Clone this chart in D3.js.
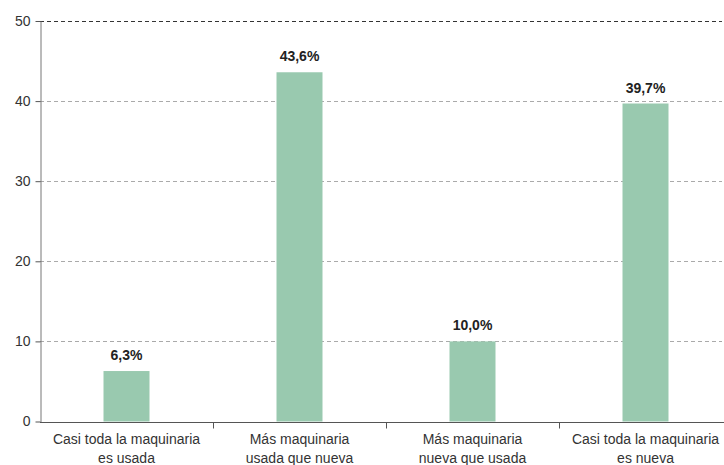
<!DOCTYPE html>
<html><head><meta charset="utf-8">
<script src="https://cdn.jsdelivr.net/npm/d3@7"></script>
<style>body{margin:0;background:#fff}svg{display:block;font-family:"Liberation Sans",Arial,sans-serif}</style>
</head><body>
<svg id="c" width="724" height="465"></svg>
<script>
const categories = [["Casi toda la maquinaria","es usada"],["Más maquinaria","usada que nueva"],["Más maquinaria","nueva que usada"],["Casi toda la maquinaria","es nueva"]];
const values = [6.3, 43.6, 10.0, 39.7];
const valueLabels = ["6,3%","43,6%","10,0%","39,7%"];
const yTicks = [0,10,20,30,40,50];

const svg = d3.select("#c");
const x0 = 40, x1 = 732, yTop = 21, yBot = 421.5;
const x = d3.scaleBand().domain(d3.range(categories.length)).range([x0, x1]).paddingInner(0).paddingOuter(0);
const y = d3.scaleLinear().domain([0,50]).range([yBot, yTop]);
const barW = 46;

// gridlines
svg.append("g").selectAll("line").data(yTicks.filter(d=>d>0)).join("line")
  .attr("x1", x0).attr("x2", 722)
  .attr("y1", d=>Math.round(y(d))+0.5).attr("y2", d=>Math.round(y(d))+0.5)
  .attr("stroke", d=>d===50?"#333":"#aaa").attr("stroke-width",1)
  .attr("stroke-dasharray","4,3");

// bars
svg.append("g").selectAll("rect").data(values).join("rect")
  .attr("x",(d,i)=>x(i)+x.bandwidth()/2-barW/2).attr("width",barW)
  .attr("y",d=>y(d)).attr("height",d=>yBot-y(d)).attr("fill","#99c9af");

// value labels
svg.append("g").selectAll("text").data(values).join("text")
  .attr("x",(d,i)=>x(i)+x.bandwidth()/2).attr("y",d=>y(d)-11)
  .attr("text-anchor","middle").attr("font-size",14).attr("font-weight","bold").attr("fill","#222")
  .text((d,i)=>valueLabels[i]);

// y axis
const ya = svg.append("g").attr("transform",`translate(${x0+0.5},0)`)
  .call(d3.axisLeft(y).tickValues(yTicks).tickSize(5).tickPadding(5).tickSizeOuter(0));
ya.select(".domain").attr("stroke","#777");
ya.selectAll(".tick line").attr("stroke","#555");
ya.selectAll(".tick text").attr("font-size",14).attr("fill","#333").attr("font-family","Liberation Sans, Arial, sans-serif");

// x axis
const xa = svg.append("g").attr("transform",`translate(0,${Math.round(yBot)+0.5})`);
xa.append("line").attr("x1",x0).attr("x2",724).attr("stroke","#555");
xa.selectAll("line.t").data(d3.range(1,categories.length)).join("line").attr("class","t")
  .attr("x1",d=>x(d)+0.5).attr("x2",d=>x(d)+0.5).attr("y1",0).attr("y2",6).attr("stroke","#555");
const lbl = xa.selectAll("text").data(categories).join("text")
  .attr("text-anchor","middle").attr("font-size",14).attr("fill","#333")
  .attr("transform",(d,i)=>`translate(${x(i)+x.bandwidth()/2},0)`);
lbl.selectAll("tspan").data(d=>d).join("tspan").attr("x",0).attr("y",(d,j)=>21+j*19).text(d=>d);
</script>
</body></html>
